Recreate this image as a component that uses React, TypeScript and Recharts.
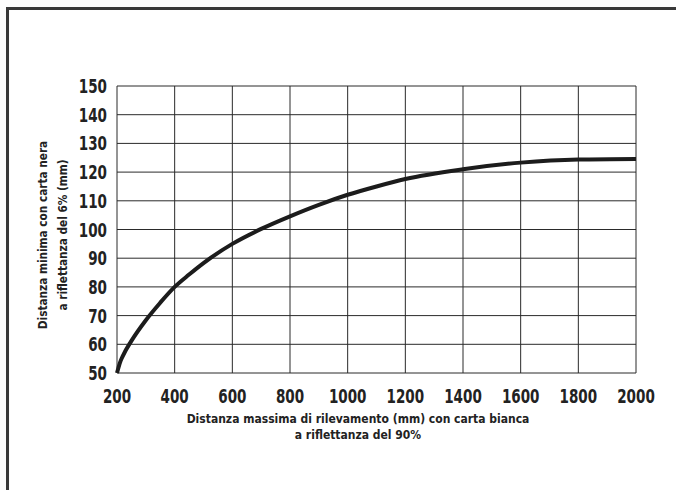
import React from 'react'
import { LineChart, Line, XAxis, YAxis, CartesianGrid } from 'recharts'

// distanza massima (mm) con carta bianca 90%
const maxDistance = [200, 211, 220, 250, 300, 350, 400, 450, 500, 600, 700, 800, 900, 1000, 1100, 1200, 1400, 1600, 1800, 2000]
// distanza minima (mm) con carta nera 6%
const minDistance = [50, 53.8, 55.9, 61.2, 68.4, 74.5, 80, 84.3, 88.3, 95, 100.2, 104.6, 108.6, 112.1, 115, 117.6, 121, 123.3, 124.4, 124.6]

const xTicks = [200, 400, 600, 800, 1000, 1200, 1400, 1600, 1800, 2000]
const yTicks = [50, 60, 70, 80, 90, 100, 110, 120, 130, 140, 150]

const data = maxDistance.map((x, i) => ({ x, y: minDistance[i] }))

const FONT = '"DejaVu Sans Condensed", "DejaVu Sans", sans-serif'
const SQUEEZE = 0.79

// condensed bold numbers, like the original's narrow typeface
const XTick = (props: any) => {
  const { x, y, payload } = props
  return (
    <g transform={`translate(${x},${y + 30}) scale(${SQUEEZE},1)`}>
      <text textAnchor="middle" fontFamily={FONT} fontSize={19} fontWeight={700} fill="#222">
        {payload.value}
      </text>
    </g>
  )
}

const YTick = (props: any) => {
  const { x, y, payload } = props
  return (
    <g transform={`translate(${x - 10},${y + 7}) scale(${SQUEEZE},1)`}>
      <text textAnchor="end" fontFamily={FONT} fontSize={19} fontWeight={700} fill="#222">
        {payload.value}
      </text>
    </g>
  )
}

const App = () => {
  return (
    <div style={{ position: 'absolute', left: 0, top: 0, width: 676, height: 490, background: '#fff', overflow: 'hidden' }}>
      {/* frame: only top and left edges visible */}
      <div style={{ position: 'absolute', left: 6, top: 7, right: -10, bottom: -10, borderTop: '3px solid #3a3a3a', borderLeft: '3px solid #3a3a3a' }} />

      <div style={{ position: 'absolute', left: 0, top: 0 }}>
        <LineChart width={676} height={490} data={data} margin={{ top: 86, right: 40, bottom: 87, left: 0 }}>
          <CartesianGrid stroke="#2a2a2a" strokeWidth={1} />
          <XAxis
            dataKey="x"
            type="number"
            domain={[200, 2000]}
            ticks={xTicks}
            axisLine={false}
            tickLine={false}
            tickSize={0}
            tickMargin={0}
            height={30}
            tick={<XTick />}
            interval={0}
          />
          <YAxis
            type="number"
            domain={[50, 150]}
            ticks={yTicks}
            axisLine={false}
            tickLine={false}
            tickSize={0}
            tickMargin={0}
            width={117}
            tick={<YTick />}
            interval={0}
          />
          <Line
            type="monotone"
            dataKey="y"
            stroke="#1c1c1c"
            strokeWidth={4}
            dot={false}
            isAnimationActive={false}
          />
        </LineChart>
      </div>

      {/* y axis title */}
      <div
        style={{
          position: 'absolute',
          left: 53,
          top: 235,
          transform: 'translate(-50%, -50%) rotate(-90deg) scaleX(0.9)',
          whiteSpace: 'nowrap',
          textAlign: 'center',
          fontFamily: FONT,
          fontWeight: 700,
          fontSize: 13,
          lineHeight: '20px',
          color: '#222',
        }}
      >
        Distanza minima con carta nera
        <br />
        a riflettanza del 6% (mm)
      </div>

      {/* x axis title */}
      <div
        style={{
          position: 'absolute',
          left: 358,
          top: 411,
          transform: 'translateX(-50%) scaleX(0.96)',
          whiteSpace: 'nowrap',
          textAlign: 'center',
          fontFamily: FONT,
          fontWeight: 700,
          fontSize: 12.5,
          lineHeight: '16px',
          color: '#222',
        }}
      >
        Distanza massima di rilevamento (mm) con carta bianca
        <br />
        a riflettanza del 90%
      </div>
    </div>
  )
}

export default App
